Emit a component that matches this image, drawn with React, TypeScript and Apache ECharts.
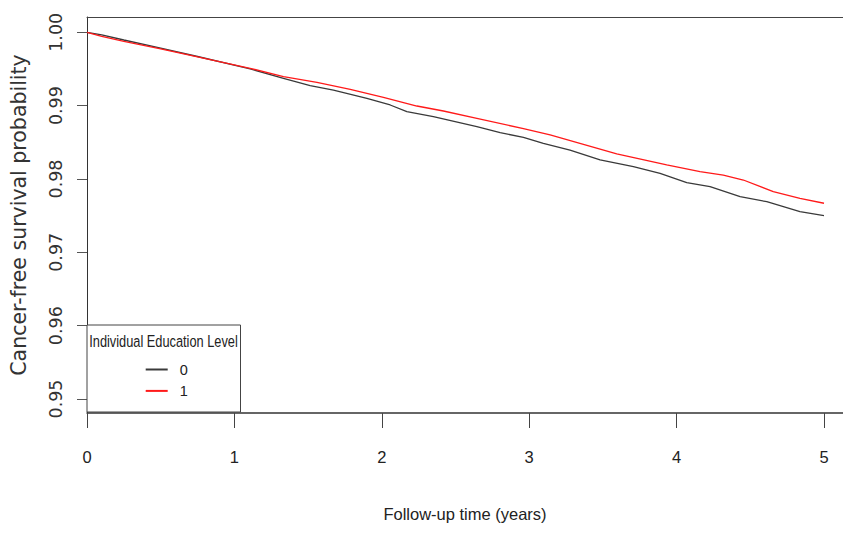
import React, { useEffect, useRef } from "react";
import * as echarts from "echarts";

// Follow-up time (years) and cancer-free survival probability, group 0 (black)
const timeGroup0 = [0, 0.1, 0.25, 0.5, 0.75, 1.107, 1.333, 1.514, 1.672, 1.899, 2.057, 2.17, 2.35, 2.645, 2.803, 2.961, 3.096, 3.277, 3.481, 3.707, 3.888, 4.069, 4.227, 4.431, 4.612, 4.837, 5.0];
const survGroup0 = [1.0, 0.99965, 0.99895, 0.99785, 0.9967, 0.995, 0.99373, 0.99272, 0.99213, 0.991, 0.99009, 0.98917, 0.98849, 0.98713, 0.98631, 0.98568, 0.98487, 0.98395, 0.98259, 0.98167, 0.98077, 0.97949, 0.97895, 0.97758, 0.9769, 0.97554, 0.97499];

// group 1 (red)
const timeGroup1 = [0, 0.1, 0.25, 0.5, 0.75, 1.107, 1.333, 1.56, 1.786, 2.011, 2.238, 2.418, 2.645, 2.961, 3.142, 3.368, 3.594, 3.933, 4.159, 4.317, 4.453, 4.656, 4.837, 5.0];
const survGroup1 = [1.0, 0.99945, 0.99875, 0.99775, 0.99665, 0.99509, 0.99395, 0.99318, 0.99223, 0.99114, 0.98995, 0.98927, 0.98827, 0.98686, 0.986, 0.98473, 0.98341, 0.98191, 0.98099, 0.98054, 0.97986, 0.97827, 0.97737, 0.97669];

const groupNames = ["0", "1"];
const xTicks = [0, 1, 2, 3, 4, 5];
const yTicks = [0.95, 0.96, 0.97, 0.98, 0.99, 1.0];
const legendTitle = "Individual Education Level";
const xTitle = "Follow-up time (years)";
const yTitle = "Cancer-free survival probability";

const SANS = "'Liberation Sans', Arial, sans-serif";
const WIDE = "'DejaVu Sans', 'Liberation Sans', sans-serif";

const X_MAX = 5.129;

export default function App() {
  const ref = useRef<HTMLDivElement>(null);
  useEffect(() => {
    if (!ref.current) return;
    const chart = echarts.init(ref.current, null, { renderer: "svg" });
    const toPairs = (t: number[], v: number[]) => t.map((x, i) => [x, v[i]]);
    chart.setOption({
      animation: false,
      backgroundColor: "#ffffff",
      grid: {
        left: 87,
        top: 17,
        right: 0,
        bottom: 120,
        show: false,
        containLabel: false,
      },
      xAxis: [
        {
          type: "value",
          min: 0,
          max: X_MAX,
          name: xTitle,
          nameLocation: "middle",
          nameGap: 92,
          nameTextStyle: { fontFamily: SANS, fontSize: 16.5, color: "#222" },
          axisLine: { show: true, lineStyle: { color: "#333", width: 1.5 } },
          axisTick: { show: true, length: 15, lineStyle: { color: "#444" }, customValues: xTicks },
          axisLabel: {
            show: true,
            margin: 35,
            fontFamily: SANS,
            fontSize: 16.5,
            color: "#222",
            customValues: xTicks,
            formatter: (v: number) => String(v),
          },
          splitLine: { show: false },
        },
        {
          type: "value",
          position: "top",
          min: 0,
          max: X_MAX,
          axisLine: { show: true, lineStyle: { color: "#444", width: 1 } },
          axisTick: { show: false },
          axisLabel: { show: false },
          splitLine: { show: false },
        },
      ],
      yAxis: {
        type: "value",
        min: 0.948091,
        max: 1.002086,
        name: yTitle,
        nameLocation: "middle",
        nameRotate: 90,
        nameGap: 58,
        nameTextStyle: { fontFamily: WIDE, fontSize: 20.5, color: "#333" },
        axisLine: { show: true, lineStyle: { color: "#333", width: 1 } },
        axisTick: { show: true, length: 10, lineStyle: { color: "#555" }, customValues: yTicks },
        axisLabel: {
          show: true,
          rotate: 90,
          margin: 22,
          fontFamily: WIDE,
          fontSize: 17.5,
          color: "#333",
          customValues: yTicks,
          formatter: (v: number) => v.toFixed(2),
        },
        splitLine: { show: false },
      },
      legend: {
        orient: "vertical",
        left: 145.7,
        top: 361.5,
        padding: 0,
        itemGap: 5.4,
        itemWidth: 22,
        itemHeight: 2,
        icon: "rect",
        data: groupNames,
        textStyle: { fontFamily: SANS, fontSize: 14.5, lineHeight: 16, color: "#222", padding: [0, 0, 0, 7] },
        z: 20,
      },
      graphic: [
        {
          type: "rect",
          z: 10,
          shape: { x: 87, y: 325, width: 153.5, height: 87 },
          style: { fill: "#ffffff", stroke: "#444", lineWidth: 1 },
        },
        {
          type: "text",
          z: 11,
          x: 163.5,
          y: 341,
          scaleY: 1.3,
          style: {
            text: legendTitle,
            fontFamily: SANS,
            fontSize: 12.8,
            fill: "#222",
            align: "center",
            verticalAlign: "middle",
          },
        },
      ],
      series: [
        {
          name: groupNames[0],
          type: "line",
          xAxisIndex: 0,
          data: toPairs(timeGroup0, survGroup0),
          showSymbol: false,
          symbol: "none",
          color: "#3a3a3a",
          lineStyle: { color: "#3a3a3a", width: 1.3 },
          z: 3,
        },
        {
          name: groupNames[1],
          type: "line",
          xAxisIndex: 0,
          data: toPairs(timeGroup1, survGroup1),
          showSymbol: false,
          symbol: "none",
          color: "#ff1a1a",
          lineStyle: { color: "#ff1a1a", width: 1.3 },
          z: 4,
        },
      ],
    });
    return () => chart.dispose();
  }, []);
  return (
    <div
      ref={ref}
      style={{ position: "absolute", left: 0, top: 0, width: 843, height: 533 }}
    />
  );
}
